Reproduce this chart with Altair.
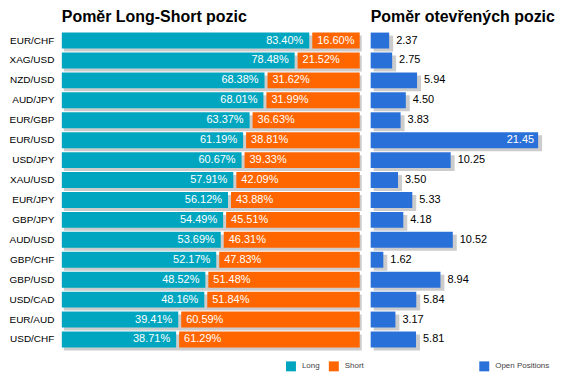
import altair as alt
import pandas as pd

pairs = ["EUR/CHF", "XAG/USD", "NZD/USD", "AUD/JPY", "EUR/GBP", "EUR/USD", "USD/JPY", "XAU/USD",
         "EUR/JPY", "GBP/JPY", "AUD/USD", "GBP/CHF", "GBP/USD", "USD/CAD", "EUR/AUD", "USD/CHF"]
long_pct = [83.40, 78.48, 68.38, 68.01, 63.37, 61.19, 60.67, 57.91,
            56.12, 54.49, 53.69, 52.17, 48.52, 48.16, 39.41, 38.71]
short_pct = [16.60, 21.52, 31.62, 31.99, 36.63, 38.81, 39.33, 42.09,
             43.88, 45.51, 46.31, 47.83, 51.48, 51.84, 60.59, 61.29]
open_pos = [2.37, 2.75, 5.94, 4.50, 3.83, 21.45, 10.25, 3.50,
            5.33, 4.18, 10.52, 1.62, 8.94, 5.84, 3.17, 5.81]

TEAL = "#00a6bf"
ORANGE = "#ff6600"
BLUE = "#2a70d9"
SHADOW = "#cccccc"

df = pd.DataFrame({
    "pair": pairs,
    "long": long_pct,
    "short": short_pct,
    "open": open_pos,
})
df["zero"] = 0.0
df["full"] = 100.0
df["long_lbl"] = df["long"].map(lambda v: f"{v:.2f}%")
df["short_lbl"] = df["short"].map(lambda v: f"{v:.2f}%")
df["open_lbl"] = df["open"].map(lambda v: f"{v:.2f}")
df["cl"] = "Long"
df["cs"] = "Short"
df["co"] = "Open Positions"

yscale = alt.Scale(domain=pairs, paddingInner=0.2, paddingOuter=0.1)
y_left = alt.Y("pair:N", sort=pairs, scale=yscale,
               axis=alt.Axis(title=None, ticks=False, domain=False, grid=False,
                             labelFont="Liberation Sans", labelFontSize=10,
                             labelColor="#000000", labelPadding=8,
                             minExtent=53, maxExtent=53))
y_right = alt.Y("pair:N", sort=pairs, scale=yscale, axis=None)

xs = alt.Scale(domain=[0, 100], nice=False, zero=True)
xr = alt.Scale(domain=[0, 24], nice=False, zero=True)

leg_common = dict(orient="none", direction="horizontal", title=None,
                  symbolType="square", symbolSize=100, symbolStrokeWidth=0,
                  labelFont="Liberation Sans", labelFontSize=8, labelColor="#444444",
                  labelOffset=6, columnPadding=9)

cscale = alt.Scale(domain=["Long", "Short"], range=[TEAL, ORANGE])
left_leg = alt.Legend(legendX=225, legendY=332, **leg_common)

base = alt.Chart(df)

shadow_l = base.mark_bar(color=SHADOW, xOffset=2, x2Offset=2, yOffset=3, y2Offset=3).encode(
    x=alt.X("zero:Q", scale=xs, axis=None), x2="full:Q", y=y_left)
long_bar = base.mark_bar(x2Offset=-1).encode(
    x=alt.X("zero:Q", scale=xs, axis=None), x2="long:Q", y=y_left,
    color=alt.Color("cl:N", scale=cscale, legend=left_leg, title=None))
short_bar = base.mark_bar(xOffset=2).encode(
    x=alt.X("long:Q", scale=xs, axis=None), x2="full:Q", y=y_left,
    color=alt.Color("cs:N", scale=cscale, legend=left_leg, title=None))
long_txt = base.mark_text(align="right", baseline="middle", dx=-7, color="white",
                          font="Liberation Sans", fontSize=11).encode(
    x=alt.X("long:Q", scale=xs, axis=None), y=y_left, text="long_lbl:N")
short_txt = base.mark_text(align="left", baseline="middle", dx=7, color="white",
                           font="Liberation Sans", fontSize=11).encode(
    x=alt.X("long:Q", scale=xs, axis=None), y=y_left, text="short_lbl:N")

left = alt.layer(shadow_l, long_bar, short_bar, long_txt, short_txt).properties(
    width=299, height=320,
    title=alt.TitleParams("Poměr Long-Short pozic", anchor="start", frame="group",
                          font="Liberation Sans",
                          fontSize=16, fontWeight="bold", color="#000000",
                          baseline="alphabetic", offset=-7))

oscale = alt.Scale(domain=["Open Positions"], range=[BLUE])
right_leg = alt.Legend(legendX=109, legendY=332, **leg_common)

shadow_r = base.mark_bar(color=SHADOW, xOffset=3, x2Offset=4, yOffset=3, y2Offset=3).encode(
    x=alt.X("zero:Q", scale=xr, axis=None), x2="open:Q", y=y_right)
open_bar = base.mark_bar().encode(
    x=alt.X("zero:Q", scale=xr, axis=None), x2="open:Q", y=y_right,
    color=alt.Color("co:N", scale=oscale, legend=right_leg, title=None))
open_txt_out = base.transform_filter("datum.open < 15").mark_text(
    align="left", baseline="middle", dx=7, color="#000000",
    font="Liberation Sans", fontSize=11).encode(
    x=alt.X("open:Q", scale=xr, axis=None), y=y_right, text="open_lbl:N")
open_txt_in = base.transform_filter("datum.open >= 15").mark_text(
    align="right", baseline="middle", dx=-4, color="white",
    font="Liberation Sans", fontSize=11).encode(
    x=alt.X("open:Q", scale=xr, axis=None), y=y_right, text="open_lbl:N")

right = alt.layer(shadow_r, open_bar, open_txt_out, open_txt_in).properties(
    width=188, height=320,
    title=alt.TitleParams("Poměr otevřených pozic", anchor="start", frame="group",
                          font="Liberation Sans",
                          fontSize=16, fontWeight="bold", color="#000000",
                          baseline="alphabetic", offset=-7))

chart = alt.hconcat(left, right, spacing=6).resolve_scale(color="independent").configure_view(
    stroke=None).properties(padding=0, background="white")

chart.save("out.html", embed_options={"renderer": "svg", "actions": False})
